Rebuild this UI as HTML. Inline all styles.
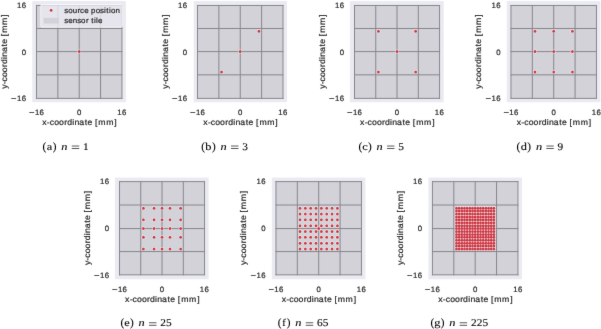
<!DOCTYPE html>
<html><head><meta charset="utf-8"><style>
html,body{margin:0;padding:0;background:#fff;width:601px;height:329px;overflow:hidden}
svg{display:block}
text{text-rendering:geometricPrecision}
text{font-family:"Liberation Sans",sans-serif;fill:#262626;stroke:#262626;stroke-width:0.2px}
.cap{font-family:"Liberation Serif",serif;fill:#000;stroke:#000;stroke-width:0.1px}
</style></head><body>
<svg width="601" height="329" viewBox="0 0 601 329">
<defs><filter id="bl" x="0" y="0" width="601" height="329" filterUnits="userSpaceOnUse" color-interpolation-filters="sRGB"><feConvolveMatrix order="3" kernelMatrix="0.00524 0.06192 0.00524 0.06192 0.73137 0.06192 0.00524 0.06192 0.00524" edgeMode="duplicate"/></filter></defs>
<rect width="601" height="329" fill="#fff"/>
<g filter="url(#bl)">
<rect x="32.26" y="1.1" width="93.64" height="101.1" fill="#EAEAF2"/>
<rect x="36.5" y="5.47" width="85.43" height="92.91" fill="#D2D2D8"/>
<path d="M36.5 5.47V98.38M36.5 5.47H121.93M57.86 5.47V98.38M36.5 28.5H121.93M79.22 5.47V98.38M36.5 51.6H121.93M100.57 5.47V98.38M36.5 74.85H121.93M121.93 5.47V98.38M36.5 98.38H121.93" stroke="#86868c" stroke-width="1" fill="none" stroke-linecap="square"/>
<rect x="40.7" y="4.5" width="81.8" height="22.7" rx="1.5" fill="#EAEAF2" fill-opacity="0.8" stroke="#fff" stroke-opacity="0.8" stroke-width="0.8"/>
<ellipse cx="51.15" cy="10.25" rx="1.85" ry="1.998" fill="#fff" fill-opacity="0.85"/><ellipse cx="51.15" cy="10.25" rx="1.4" ry="1.512" fill="#CC3A46"/>
<rect x="43.7" y="17.9" width="15.2" height="5.6" fill="#D2D2D8"/>
<text transform="translate(64.70 12.80) scale(1.05 1)" x="-0.41 3.28 7.61 12.25 14.60 18.56 22.86 25.17 29.48 33.69 37.49 39.60 42.17 44.00 48.36" y="0" font-size="7.6">source position</text>
<text transform="translate(64.70 23.00) scale(1.05 1)" x="-0.41 3.31 7.67 11.95 15.64 20.18 22.81 25.27 27.84 29.78 31.64" y="0" font-size="7.6">sensor tile</text>
<g fill="#fff" fill-opacity="0.85"><ellipse cx="79.22" cy="51.6" rx="1.85" ry="1.998"/></g>
<g fill="#CC3A46"><ellipse cx="79.22" cy="51.6" rx="1.4" ry="1.512"/></g>
<text transform="translate(36.50 114.80) scale(1.0 1)" x="-7.58" y="0" font-size="7.79" textLength="5.51" lengthAdjust="spacingAndGlyphs">−</text><text transform="translate(36.50 114.80) scale(1.0 1)" x="-1.63 3.08" y="0" font-size="7.79">16</text>
<text transform="translate(79.22 114.80) scale(1.0 1)" x="-2.17" y="0" font-size="7.79">0</text>
<text transform="translate(121.93 114.80) scale(1.0 1)" x="-4.71 -0.01" y="0" font-size="7.79">16</text>
<text transform="translate(25.80 7.87) scale(1.0 1)" x="-8.74 -4.04" y="0" font-size="7.79">16</text>
<text transform="translate(25.80 54.82) scale(1.0 1)" x="-4.01" y="0" font-size="7.79">0</text>
<text transform="translate(25.80 101.23) scale(1.0 1)" x="-14.69" y="0" font-size="7.79" textLength="5.51" lengthAdjust="spacingAndGlyphs">−</text><text transform="translate(25.80 101.23) scale(1.0 1)" x="-8.74 -4.04" y="0" font-size="7.79">16</text>
<text transform="translate(79.22 124.95) scale(1.05 1)" x="-35.17 -30.83 -28.15 -23.86 -19.20 -14.24 -11.50 -6.59 -4.49 -0.05 5.21 7.93 12.62 15.01 18.23 25.65 33.44" y="0" font-size="8.29">x-coordinate [mm]</text>
<text transform="translate(6.60 51.92) rotate(-90) scale(1.05 1)" x="-35.09 -30.90 -28.22 -23.93 -19.27 -14.31 -11.57 -6.66 -4.56 -0.12 5.13 7.86 12.55 14.94 18.16 25.58 33.37" y="0" font-size="8.29">y-coordinate [mm]</text>
<text x="42.57" y="149.60" class="cap" font-size="11.2">(</text><text x="46.80" y="149.60" class="cap" font-size="10.3" textLength="5.49" lengthAdjust="spacingAndGlyphs">a</text><text x="52.80" y="149.60" class="cap" font-size="11.2">)</text><text x="61.39" y="149.60" class="cap" font-size="10.3" font-style="italic" textLength="6.18" lengthAdjust="spacingAndGlyphs">n</text><text x="83.01" y="149.60" class="cap" font-size="10.3" textLength="5.67" lengthAdjust="spacingAndGlyphs">1</text><rect x="71.77" y="145.65" width="7.47" height="0.75" fill="#222"/><rect x="71.77" y="148.05" width="7.47" height="0.75" fill="#222"/>
<rect x="193.7" y="1.1" width="93.3" height="101.1" fill="#EAEAF2"/>
<rect x="197.5" y="5.47" width="85.5" height="92.91" fill="#D2D2D8"/>
<path d="M197.5 5.47V98.38M197.5 5.47H283M218.88 5.47V98.38M197.5 28.5H283M240.25 5.47V98.38M197.5 51.6H283M261.62 5.47V98.38M197.5 74.85H283M283 5.47V98.38M197.5 98.38H283" stroke="#86868c" stroke-width="1" fill="none" stroke-linecap="square"/>
<g fill="#fff" fill-opacity="0.85"><ellipse cx="221.55" cy="71.92" rx="1.85" ry="1.998"/><ellipse cx="240.25" cy="51.6" rx="1.85" ry="1.998"/><ellipse cx="258.95" cy="31.28" rx="1.85" ry="1.998"/></g>
<g fill="#CC3A46"><ellipse cx="221.55" cy="71.92" rx="1.4" ry="1.512"/><ellipse cx="240.25" cy="51.6" rx="1.4" ry="1.512"/><ellipse cx="258.95" cy="31.28" rx="1.4" ry="1.512"/></g>
<text transform="translate(197.50 114.80) scale(1.0 1)" x="-7.58" y="0" font-size="7.79" textLength="5.51" lengthAdjust="spacingAndGlyphs">−</text><text transform="translate(197.50 114.80) scale(1.0 1)" x="-1.63 3.08" y="0" font-size="7.79">16</text>
<text transform="translate(240.25 114.80) scale(1.0 1)" x="-2.17" y="0" font-size="7.79">0</text>
<text transform="translate(283.00 114.80) scale(1.0 1)" x="-4.71 -0.01" y="0" font-size="7.79">16</text>
<text transform="translate(186.80 7.87) scale(1.0 1)" x="-8.74 -4.04" y="0" font-size="7.79">16</text>
<text transform="translate(186.80 54.82) scale(1.0 1)" x="-4.01" y="0" font-size="7.79">0</text>
<text transform="translate(186.80 101.23) scale(1.0 1)" x="-14.69" y="0" font-size="7.79" textLength="5.51" lengthAdjust="spacingAndGlyphs">−</text><text transform="translate(186.80 101.23) scale(1.0 1)" x="-8.74 -4.04" y="0" font-size="7.79">16</text>
<text transform="translate(240.25 124.95) scale(1.05 1)" x="-35.17 -30.83 -28.15 -23.86 -19.20 -14.24 -11.50 -6.59 -4.49 -0.05 5.21 7.93 12.62 15.01 18.23 25.65 33.44" y="0" font-size="8.29">x-coordinate [mm]</text>
<text transform="translate(167.60 51.92) rotate(-90) scale(1.05 1)" x="-35.09 -30.90 -28.22 -23.93 -19.27 -14.31 -11.57 -6.66 -4.56 -0.12 5.13 7.86 12.55 14.94 18.16 25.58 33.37" y="0" font-size="8.29">y-coordinate [mm]</text>
<text x="201.17" y="149.60" class="cap" font-size="11.2">(</text><text x="205.38" y="149.60" class="cap" font-size="10.3" textLength="6.18" lengthAdjust="spacingAndGlyphs">b</text><text x="212.04" y="149.60" class="cap" font-size="11.2">)</text><text x="220.63" y="149.60" class="cap" font-size="10.3" font-style="italic" textLength="6.18" lengthAdjust="spacingAndGlyphs">n</text><text x="242.25" y="149.60" class="cap" font-size="10.3" textLength="5.67" lengthAdjust="spacingAndGlyphs">3</text><rect x="231.01" y="145.65" width="7.47" height="0.75" fill="#222"/><rect x="231.01" y="148.05" width="7.47" height="0.75" fill="#222"/>
<rect x="349.95" y="1.1" width="93.71" height="101.1" fill="#EAEAF2"/>
<rect x="354.5" y="5.47" width="85.06" height="92.91" fill="#D2D2D8"/>
<path d="M354.5 5.47V98.38M354.5 5.47H439.56M375.76 5.47V98.38M354.5 28.5H439.56M397.03 5.47V98.38M354.5 51.6H439.56M418.3 5.47V98.38M354.5 74.85H439.56M439.56 5.47V98.38M354.5 98.38H439.56" stroke="#86868c" stroke-width="1" fill="none" stroke-linecap="square"/>
<g fill="#fff" fill-opacity="0.85"><ellipse cx="378.42" cy="71.92" rx="1.85" ry="1.998"/><ellipse cx="378.42" cy="31.28" rx="1.85" ry="1.998"/><ellipse cx="397.03" cy="51.6" rx="1.85" ry="1.998"/><ellipse cx="415.64" cy="71.92" rx="1.85" ry="1.998"/><ellipse cx="415.64" cy="31.28" rx="1.85" ry="1.998"/></g>
<g fill="#CC3A46"><ellipse cx="378.42" cy="71.92" rx="1.4" ry="1.512"/><ellipse cx="378.42" cy="31.28" rx="1.4" ry="1.512"/><ellipse cx="397.03" cy="51.6" rx="1.4" ry="1.512"/><ellipse cx="415.64" cy="71.92" rx="1.4" ry="1.512"/><ellipse cx="415.64" cy="31.28" rx="1.4" ry="1.512"/></g>
<text transform="translate(354.50 114.80) scale(1.0 1)" x="-7.58" y="0" font-size="7.79" textLength="5.51" lengthAdjust="spacingAndGlyphs">−</text><text transform="translate(354.50 114.80) scale(1.0 1)" x="-1.63 3.08" y="0" font-size="7.79">16</text>
<text transform="translate(397.03 114.80) scale(1.0 1)" x="-2.17" y="0" font-size="7.79">0</text>
<text transform="translate(439.56 114.80) scale(1.0 1)" x="-4.71 -0.01" y="0" font-size="7.79">16</text>
<text transform="translate(343.80 7.87) scale(1.0 1)" x="-8.74 -4.04" y="0" font-size="7.79">16</text>
<text transform="translate(343.80 54.82) scale(1.0 1)" x="-4.01" y="0" font-size="7.79">0</text>
<text transform="translate(343.80 101.23) scale(1.0 1)" x="-14.69" y="0" font-size="7.79" textLength="5.51" lengthAdjust="spacingAndGlyphs">−</text><text transform="translate(343.80 101.23) scale(1.0 1)" x="-8.74 -4.04" y="0" font-size="7.79">16</text>
<text transform="translate(397.03 124.95) scale(1.05 1)" x="-35.17 -30.83 -28.15 -23.86 -19.20 -14.24 -11.50 -6.59 -4.49 -0.05 5.21 7.93 12.62 15.01 18.23 25.65 33.44" y="0" font-size="8.29">x-coordinate [mm]</text>
<text transform="translate(324.60 51.92) rotate(-90) scale(1.05 1)" x="-35.09 -30.90 -28.22 -23.93 -19.27 -14.31 -11.57 -6.66 -4.56 -0.12 5.13 7.86 12.55 14.94 18.16 25.58 33.37" y="0" font-size="8.29">y-coordinate [mm]</text>
<text x="358.47" y="149.60" class="cap" font-size="11.2">(</text><text x="362.38" y="149.60" class="cap" font-size="10.3" textLength="5.49" lengthAdjust="spacingAndGlyphs">c</text><text x="368.05" y="149.60" class="cap" font-size="11.2">)</text><text x="376.64" y="149.60" class="cap" font-size="10.3" font-style="italic" textLength="6.18" lengthAdjust="spacingAndGlyphs">n</text><text x="398.27" y="149.60" class="cap" font-size="10.3" textLength="5.67" lengthAdjust="spacingAndGlyphs">5</text><rect x="387.02" y="145.65" width="7.47" height="0.75" fill="#222"/><rect x="387.02" y="148.05" width="7.47" height="0.75" fill="#222"/>
<rect x="506.8" y="1.1" width="93.6" height="101.1" fill="#EAEAF2"/>
<rect x="510.96" y="5.47" width="85.49" height="92.91" fill="#D2D2D8"/>
<path d="M510.96 5.47V98.38M510.96 5.47H596.45M532.33 5.47V98.38M510.96 28.5H596.45M553.71 5.47V98.38M510.96 51.6H596.45M575.08 5.47V98.38M510.96 74.85H596.45M596.45 5.47V98.38M510.96 98.38H596.45" stroke="#86868c" stroke-width="1" fill="none" stroke-linecap="square"/>
<g fill="#fff" fill-opacity="0.85"><ellipse cx="535" cy="71.92" rx="1.85" ry="1.998"/><ellipse cx="535" cy="51.6" rx="1.85" ry="1.998"/><ellipse cx="535" cy="31.28" rx="1.85" ry="1.998"/><ellipse cx="553.71" cy="71.92" rx="1.85" ry="1.998"/><ellipse cx="553.71" cy="51.6" rx="1.85" ry="1.998"/><ellipse cx="553.71" cy="31.28" rx="1.85" ry="1.998"/><ellipse cx="572.41" cy="71.92" rx="1.85" ry="1.998"/><ellipse cx="572.41" cy="51.6" rx="1.85" ry="1.998"/><ellipse cx="572.41" cy="31.28" rx="1.85" ry="1.998"/></g>
<g fill="#CC3A46"><ellipse cx="535" cy="71.92" rx="1.4" ry="1.512"/><ellipse cx="535" cy="51.6" rx="1.4" ry="1.512"/><ellipse cx="535" cy="31.28" rx="1.4" ry="1.512"/><ellipse cx="553.71" cy="71.92" rx="1.4" ry="1.512"/><ellipse cx="553.71" cy="51.6" rx="1.4" ry="1.512"/><ellipse cx="553.71" cy="31.28" rx="1.4" ry="1.512"/><ellipse cx="572.41" cy="71.92" rx="1.4" ry="1.512"/><ellipse cx="572.41" cy="51.6" rx="1.4" ry="1.512"/><ellipse cx="572.41" cy="31.28" rx="1.4" ry="1.512"/></g>
<text transform="translate(510.96 114.80) scale(1.0 1)" x="-7.58" y="0" font-size="7.79" textLength="5.51" lengthAdjust="spacingAndGlyphs">−</text><text transform="translate(510.96 114.80) scale(1.0 1)" x="-1.63 3.08" y="0" font-size="7.79">16</text>
<text transform="translate(553.71 114.80) scale(1.0 1)" x="-2.17" y="0" font-size="7.79">0</text>
<text transform="translate(596.45 114.80) scale(1.0 1)" x="-4.71 -0.01" y="0" font-size="7.79">16</text>
<text transform="translate(500.26 7.87) scale(1.0 1)" x="-8.74 -4.04" y="0" font-size="7.79">16</text>
<text transform="translate(500.26 54.82) scale(1.0 1)" x="-4.01" y="0" font-size="7.79">0</text>
<text transform="translate(500.26 101.23) scale(1.0 1)" x="-14.69" y="0" font-size="7.79" textLength="5.51" lengthAdjust="spacingAndGlyphs">−</text><text transform="translate(500.26 101.23) scale(1.0 1)" x="-8.74 -4.04" y="0" font-size="7.79">16</text>
<text transform="translate(553.71 124.95) scale(1.05 1)" x="-35.17 -30.83 -28.15 -23.86 -19.20 -14.24 -11.50 -6.59 -4.49 -0.05 5.21 7.93 12.62 15.01 18.23 25.65 33.44" y="0" font-size="8.29">x-coordinate [mm]</text>
<text transform="translate(481.06 51.92) rotate(-90) scale(1.05 1)" x="-35.09 -30.90 -28.22 -23.93 -19.27 -14.31 -11.57 -6.66 -4.56 -0.12 5.13 7.86 12.55 14.94 18.16 25.58 33.37" y="0" font-size="8.29">y-coordinate [mm]</text>
<text x="516.47" y="149.60" class="cap" font-size="11.2">(</text><text x="520.68" y="149.60" class="cap" font-size="10.3" textLength="6.18" lengthAdjust="spacingAndGlyphs">d</text><text x="527.34" y="149.60" class="cap" font-size="11.2">)</text><text x="535.93" y="149.60" class="cap" font-size="10.3" font-style="italic" textLength="6.18" lengthAdjust="spacingAndGlyphs">n</text><text x="557.55" y="149.60" class="cap" font-size="10.3" textLength="5.67" lengthAdjust="spacingAndGlyphs">9</text><rect x="546.31" y="145.65" width="7.47" height="0.75" fill="#222"/><rect x="546.31" y="148.05" width="7.47" height="0.75" fill="#222"/>
<rect x="114.95" y="177.6" width="93.71" height="101.7" fill="#EAEAF2"/>
<rect x="119.5" y="181.6" width="85.06" height="93.23" fill="#D2D2D8"/>
<path d="M119.5 181.6V274.83M119.5 181.6H204.56M140.76 181.6V274.83M119.5 205H204.56M162.03 181.6V274.83M119.5 228.57H204.56M183.3 181.6V274.83M119.5 251.57H204.56M204.56 181.6V274.83M119.5 274.83H204.56" stroke="#86868c" stroke-width="1" fill="none" stroke-linecap="square"/>
<g fill="#fff" fill-opacity="0.85"><ellipse cx="143.42" cy="248.96" rx="1.85" ry="1.998"/><ellipse cx="143.42" cy="237.31" rx="1.85" ry="1.998"/><ellipse cx="143.42" cy="228.57" rx="1.85" ry="1.998"/><ellipse cx="143.42" cy="219.83" rx="1.85" ry="1.998"/><ellipse cx="143.42" cy="208.18" rx="1.85" ry="1.998"/><ellipse cx="154.06" cy="248.96" rx="1.85" ry="1.998"/><ellipse cx="154.06" cy="237.31" rx="1.85" ry="1.998"/><ellipse cx="154.06" cy="228.57" rx="1.85" ry="1.998"/><ellipse cx="154.06" cy="219.83" rx="1.85" ry="1.998"/><ellipse cx="154.06" cy="208.18" rx="1.85" ry="1.998"/><ellipse cx="162.03" cy="248.96" rx="1.85" ry="1.998"/><ellipse cx="162.03" cy="237.31" rx="1.85" ry="1.998"/><ellipse cx="162.03" cy="228.57" rx="1.85" ry="1.998"/><ellipse cx="162.03" cy="219.83" rx="1.85" ry="1.998"/><ellipse cx="162.03" cy="208.18" rx="1.85" ry="1.998"/><ellipse cx="170" cy="248.96" rx="1.85" ry="1.998"/><ellipse cx="170" cy="237.31" rx="1.85" ry="1.998"/><ellipse cx="170" cy="228.57" rx="1.85" ry="1.998"/><ellipse cx="170" cy="219.83" rx="1.85" ry="1.998"/><ellipse cx="170" cy="208.18" rx="1.85" ry="1.998"/><ellipse cx="180.64" cy="248.96" rx="1.85" ry="1.998"/><ellipse cx="180.64" cy="237.31" rx="1.85" ry="1.998"/><ellipse cx="180.64" cy="228.57" rx="1.85" ry="1.998"/><ellipse cx="180.64" cy="219.83" rx="1.85" ry="1.998"/><ellipse cx="180.64" cy="208.18" rx="1.85" ry="1.998"/></g>
<g fill="#CC3A46"><ellipse cx="143.42" cy="248.96" rx="1.4" ry="1.512"/><ellipse cx="143.42" cy="237.31" rx="1.4" ry="1.512"/><ellipse cx="143.42" cy="228.57" rx="1.4" ry="1.512"/><ellipse cx="143.42" cy="219.83" rx="1.4" ry="1.512"/><ellipse cx="143.42" cy="208.18" rx="1.4" ry="1.512"/><ellipse cx="154.06" cy="248.96" rx="1.4" ry="1.512"/><ellipse cx="154.06" cy="237.31" rx="1.4" ry="1.512"/><ellipse cx="154.06" cy="228.57" rx="1.4" ry="1.512"/><ellipse cx="154.06" cy="219.83" rx="1.4" ry="1.512"/><ellipse cx="154.06" cy="208.18" rx="1.4" ry="1.512"/><ellipse cx="162.03" cy="248.96" rx="1.4" ry="1.512"/><ellipse cx="162.03" cy="237.31" rx="1.4" ry="1.512"/><ellipse cx="162.03" cy="228.57" rx="1.4" ry="1.512"/><ellipse cx="162.03" cy="219.83" rx="1.4" ry="1.512"/><ellipse cx="162.03" cy="208.18" rx="1.4" ry="1.512"/><ellipse cx="170" cy="248.96" rx="1.4" ry="1.512"/><ellipse cx="170" cy="237.31" rx="1.4" ry="1.512"/><ellipse cx="170" cy="228.57" rx="1.4" ry="1.512"/><ellipse cx="170" cy="219.83" rx="1.4" ry="1.512"/><ellipse cx="170" cy="208.18" rx="1.4" ry="1.512"/><ellipse cx="180.64" cy="248.96" rx="1.4" ry="1.512"/><ellipse cx="180.64" cy="237.31" rx="1.4" ry="1.512"/><ellipse cx="180.64" cy="228.57" rx="1.4" ry="1.512"/><ellipse cx="180.64" cy="219.83" rx="1.4" ry="1.512"/><ellipse cx="180.64" cy="208.18" rx="1.4" ry="1.512"/></g>
<text transform="translate(119.50 291.90) scale(1.0 1)" x="-7.58" y="0" font-size="7.79" textLength="5.51" lengthAdjust="spacingAndGlyphs">−</text><text transform="translate(119.50 291.90) scale(1.0 1)" x="-1.63 3.08" y="0" font-size="7.79">16</text>
<text transform="translate(162.03 291.90) scale(1.0 1)" x="-2.17" y="0" font-size="7.79">0</text>
<text transform="translate(204.56 291.90) scale(1.0 1)" x="-4.71 -0.01" y="0" font-size="7.79">16</text>
<text transform="translate(108.80 184.40) scale(1.0 1)" x="-8.74 -4.04" y="0" font-size="7.79">16</text>
<text transform="translate(108.80 231.41) scale(1.0 1)" x="-4.01" y="0" font-size="7.79">0</text>
<text transform="translate(108.80 277.88) scale(1.0 1)" x="-14.69" y="0" font-size="7.79" textLength="5.51" lengthAdjust="spacingAndGlyphs">−</text><text transform="translate(108.80 277.88) scale(1.0 1)" x="-8.74 -4.04" y="0" font-size="7.79">16</text>
<text transform="translate(162.03 302.05) scale(1.05 1)" x="-35.17 -30.83 -28.15 -23.86 -19.20 -14.24 -11.50 -6.59 -4.49 -0.05 5.21 7.93 12.62 15.01 18.23 25.65 33.44" y="0" font-size="8.29">x-coordinate [mm]</text>
<text transform="translate(89.60 228.21) rotate(-90) scale(1.05 1)" x="-35.09 -30.90 -28.22 -23.93 -19.27 -14.31 -11.57 -6.66 -4.56 -0.12 5.13 7.86 12.55 14.94 18.16 25.58 33.37" y="0" font-size="8.29">y-coordinate [mm]</text>
<text x="120.47" y="326.40" class="cap" font-size="11.2">(</text><text x="124.38" y="326.40" class="cap" font-size="10.3" textLength="5.49" lengthAdjust="spacingAndGlyphs">e</text><text x="130.05" y="326.40" class="cap" font-size="11.2">)</text><text x="138.64" y="326.40" class="cap" font-size="10.3" font-style="italic" textLength="6.18" lengthAdjust="spacingAndGlyphs">n</text><text x="160.27" y="326.40" class="cap" font-size="10.3" textLength="5.67" lengthAdjust="spacingAndGlyphs">2</text><text x="166.02" y="326.40" class="cap" font-size="10.3" textLength="5.67" lengthAdjust="spacingAndGlyphs">5</text><rect x="149.02" y="322.45" width="7.47" height="0.75" fill="#222"/><rect x="149.02" y="324.85" width="7.47" height="0.75" fill="#222"/>
<rect x="271.8" y="177.6" width="93.6" height="101.7" fill="#EAEAF2"/>
<rect x="275.96" y="181.6" width="85.49" height="93.23" fill="#D2D2D8"/>
<path d="M275.96 181.6V274.83M275.96 181.6H361.45M297.33 181.6V274.83M275.96 205H361.45M318.7 181.6V274.83M275.96 228.57H361.45M340.08 181.6V274.83M275.96 251.57H361.45M361.45 181.6V274.83M275.96 274.83H361.45" stroke="#86868c" stroke-width="1" fill="none" stroke-linecap="square"/>
<g fill="#fff" fill-opacity="0.85"><ellipse cx="300" cy="248.96" rx="1.85" ry="1.998"/><ellipse cx="300" cy="243.14" rx="1.85" ry="1.998"/><ellipse cx="300" cy="237.31" rx="1.85" ry="1.998"/><ellipse cx="300" cy="231.48" rx="1.85" ry="1.998"/><ellipse cx="300" cy="225.66" rx="1.85" ry="1.998"/><ellipse cx="300" cy="219.83" rx="1.85" ry="1.998"/><ellipse cx="300" cy="214" rx="1.85" ry="1.998"/><ellipse cx="300" cy="208.18" rx="1.85" ry="1.998"/><ellipse cx="305.35" cy="248.96" rx="1.85" ry="1.998"/><ellipse cx="305.35" cy="243.14" rx="1.85" ry="1.998"/><ellipse cx="305.35" cy="237.31" rx="1.85" ry="1.998"/><ellipse cx="305.35" cy="231.48" rx="1.85" ry="1.998"/><ellipse cx="305.35" cy="225.66" rx="1.85" ry="1.998"/><ellipse cx="305.35" cy="219.83" rx="1.85" ry="1.998"/><ellipse cx="305.35" cy="214" rx="1.85" ry="1.998"/><ellipse cx="305.35" cy="208.18" rx="1.85" ry="1.998"/><ellipse cx="310.69" cy="248.96" rx="1.85" ry="1.998"/><ellipse cx="310.69" cy="243.14" rx="1.85" ry="1.998"/><ellipse cx="310.69" cy="237.31" rx="1.85" ry="1.998"/><ellipse cx="310.69" cy="231.48" rx="1.85" ry="1.998"/><ellipse cx="310.69" cy="225.66" rx="1.85" ry="1.998"/><ellipse cx="310.69" cy="219.83" rx="1.85" ry="1.998"/><ellipse cx="310.69" cy="214" rx="1.85" ry="1.998"/><ellipse cx="310.69" cy="208.18" rx="1.85" ry="1.998"/><ellipse cx="316.03" cy="248.96" rx="1.85" ry="1.998"/><ellipse cx="316.03" cy="243.14" rx="1.85" ry="1.998"/><ellipse cx="316.03" cy="237.31" rx="1.85" ry="1.998"/><ellipse cx="316.03" cy="231.48" rx="1.85" ry="1.998"/><ellipse cx="316.03" cy="225.66" rx="1.85" ry="1.998"/><ellipse cx="316.03" cy="219.83" rx="1.85" ry="1.998"/><ellipse cx="316.03" cy="214" rx="1.85" ry="1.998"/><ellipse cx="316.03" cy="208.18" rx="1.85" ry="1.998"/><ellipse cx="321.38" cy="248.96" rx="1.85" ry="1.998"/><ellipse cx="321.38" cy="243.14" rx="1.85" ry="1.998"/><ellipse cx="321.38" cy="237.31" rx="1.85" ry="1.998"/><ellipse cx="321.38" cy="231.48" rx="1.85" ry="1.998"/><ellipse cx="321.38" cy="225.66" rx="1.85" ry="1.998"/><ellipse cx="321.38" cy="219.83" rx="1.85" ry="1.998"/><ellipse cx="321.38" cy="214" rx="1.85" ry="1.998"/><ellipse cx="321.38" cy="208.18" rx="1.85" ry="1.998"/><ellipse cx="326.72" cy="248.96" rx="1.85" ry="1.998"/><ellipse cx="326.72" cy="243.14" rx="1.85" ry="1.998"/><ellipse cx="326.72" cy="237.31" rx="1.85" ry="1.998"/><ellipse cx="326.72" cy="231.48" rx="1.85" ry="1.998"/><ellipse cx="326.72" cy="225.66" rx="1.85" ry="1.998"/><ellipse cx="326.72" cy="219.83" rx="1.85" ry="1.998"/><ellipse cx="326.72" cy="214" rx="1.85" ry="1.998"/><ellipse cx="326.72" cy="208.18" rx="1.85" ry="1.998"/><ellipse cx="332.06" cy="248.96" rx="1.85" ry="1.998"/><ellipse cx="332.06" cy="243.14" rx="1.85" ry="1.998"/><ellipse cx="332.06" cy="237.31" rx="1.85" ry="1.998"/><ellipse cx="332.06" cy="231.48" rx="1.85" ry="1.998"/><ellipse cx="332.06" cy="225.66" rx="1.85" ry="1.998"/><ellipse cx="332.06" cy="219.83" rx="1.85" ry="1.998"/><ellipse cx="332.06" cy="214" rx="1.85" ry="1.998"/><ellipse cx="332.06" cy="208.18" rx="1.85" ry="1.998"/><ellipse cx="337.41" cy="248.96" rx="1.85" ry="1.998"/><ellipse cx="337.41" cy="243.14" rx="1.85" ry="1.998"/><ellipse cx="337.41" cy="237.31" rx="1.85" ry="1.998"/><ellipse cx="337.41" cy="231.48" rx="1.85" ry="1.998"/><ellipse cx="337.41" cy="225.66" rx="1.85" ry="1.998"/><ellipse cx="337.41" cy="219.83" rx="1.85" ry="1.998"/><ellipse cx="337.41" cy="214" rx="1.85" ry="1.998"/><ellipse cx="337.41" cy="208.18" rx="1.85" ry="1.998"/><ellipse cx="318.7" cy="228.57" rx="1.85" ry="1.998"/></g>
<g fill="#CC3A46"><ellipse cx="300" cy="248.96" rx="1.4" ry="1.512"/><ellipse cx="300" cy="243.14" rx="1.4" ry="1.512"/><ellipse cx="300" cy="237.31" rx="1.4" ry="1.512"/><ellipse cx="300" cy="231.48" rx="1.4" ry="1.512"/><ellipse cx="300" cy="225.66" rx="1.4" ry="1.512"/><ellipse cx="300" cy="219.83" rx="1.4" ry="1.512"/><ellipse cx="300" cy="214" rx="1.4" ry="1.512"/><ellipse cx="300" cy="208.18" rx="1.4" ry="1.512"/><ellipse cx="305.35" cy="248.96" rx="1.4" ry="1.512"/><ellipse cx="305.35" cy="243.14" rx="1.4" ry="1.512"/><ellipse cx="305.35" cy="237.31" rx="1.4" ry="1.512"/><ellipse cx="305.35" cy="231.48" rx="1.4" ry="1.512"/><ellipse cx="305.35" cy="225.66" rx="1.4" ry="1.512"/><ellipse cx="305.35" cy="219.83" rx="1.4" ry="1.512"/><ellipse cx="305.35" cy="214" rx="1.4" ry="1.512"/><ellipse cx="305.35" cy="208.18" rx="1.4" ry="1.512"/><ellipse cx="310.69" cy="248.96" rx="1.4" ry="1.512"/><ellipse cx="310.69" cy="243.14" rx="1.4" ry="1.512"/><ellipse cx="310.69" cy="237.31" rx="1.4" ry="1.512"/><ellipse cx="310.69" cy="231.48" rx="1.4" ry="1.512"/><ellipse cx="310.69" cy="225.66" rx="1.4" ry="1.512"/><ellipse cx="310.69" cy="219.83" rx="1.4" ry="1.512"/><ellipse cx="310.69" cy="214" rx="1.4" ry="1.512"/><ellipse cx="310.69" cy="208.18" rx="1.4" ry="1.512"/><ellipse cx="316.03" cy="248.96" rx="1.4" ry="1.512"/><ellipse cx="316.03" cy="243.14" rx="1.4" ry="1.512"/><ellipse cx="316.03" cy="237.31" rx="1.4" ry="1.512"/><ellipse cx="316.03" cy="231.48" rx="1.4" ry="1.512"/><ellipse cx="316.03" cy="225.66" rx="1.4" ry="1.512"/><ellipse cx="316.03" cy="219.83" rx="1.4" ry="1.512"/><ellipse cx="316.03" cy="214" rx="1.4" ry="1.512"/><ellipse cx="316.03" cy="208.18" rx="1.4" ry="1.512"/><ellipse cx="321.38" cy="248.96" rx="1.4" ry="1.512"/><ellipse cx="321.38" cy="243.14" rx="1.4" ry="1.512"/><ellipse cx="321.38" cy="237.31" rx="1.4" ry="1.512"/><ellipse cx="321.38" cy="231.48" rx="1.4" ry="1.512"/><ellipse cx="321.38" cy="225.66" rx="1.4" ry="1.512"/><ellipse cx="321.38" cy="219.83" rx="1.4" ry="1.512"/><ellipse cx="321.38" cy="214" rx="1.4" ry="1.512"/><ellipse cx="321.38" cy="208.18" rx="1.4" ry="1.512"/><ellipse cx="326.72" cy="248.96" rx="1.4" ry="1.512"/><ellipse cx="326.72" cy="243.14" rx="1.4" ry="1.512"/><ellipse cx="326.72" cy="237.31" rx="1.4" ry="1.512"/><ellipse cx="326.72" cy="231.48" rx="1.4" ry="1.512"/><ellipse cx="326.72" cy="225.66" rx="1.4" ry="1.512"/><ellipse cx="326.72" cy="219.83" rx="1.4" ry="1.512"/><ellipse cx="326.72" cy="214" rx="1.4" ry="1.512"/><ellipse cx="326.72" cy="208.18" rx="1.4" ry="1.512"/><ellipse cx="332.06" cy="248.96" rx="1.4" ry="1.512"/><ellipse cx="332.06" cy="243.14" rx="1.4" ry="1.512"/><ellipse cx="332.06" cy="237.31" rx="1.4" ry="1.512"/><ellipse cx="332.06" cy="231.48" rx="1.4" ry="1.512"/><ellipse cx="332.06" cy="225.66" rx="1.4" ry="1.512"/><ellipse cx="332.06" cy="219.83" rx="1.4" ry="1.512"/><ellipse cx="332.06" cy="214" rx="1.4" ry="1.512"/><ellipse cx="332.06" cy="208.18" rx="1.4" ry="1.512"/><ellipse cx="337.41" cy="248.96" rx="1.4" ry="1.512"/><ellipse cx="337.41" cy="243.14" rx="1.4" ry="1.512"/><ellipse cx="337.41" cy="237.31" rx="1.4" ry="1.512"/><ellipse cx="337.41" cy="231.48" rx="1.4" ry="1.512"/><ellipse cx="337.41" cy="225.66" rx="1.4" ry="1.512"/><ellipse cx="337.41" cy="219.83" rx="1.4" ry="1.512"/><ellipse cx="337.41" cy="214" rx="1.4" ry="1.512"/><ellipse cx="337.41" cy="208.18" rx="1.4" ry="1.512"/><ellipse cx="318.7" cy="228.57" rx="1.4" ry="1.512"/></g>
<text transform="translate(275.96 291.90) scale(1.0 1)" x="-7.58" y="0" font-size="7.79" textLength="5.51" lengthAdjust="spacingAndGlyphs">−</text><text transform="translate(275.96 291.90) scale(1.0 1)" x="-1.63 3.08" y="0" font-size="7.79">16</text>
<text transform="translate(318.70 291.90) scale(1.0 1)" x="-2.17" y="0" font-size="7.79">0</text>
<text transform="translate(361.45 291.90) scale(1.0 1)" x="-4.71 -0.01" y="0" font-size="7.79">16</text>
<text transform="translate(265.26 184.40) scale(1.0 1)" x="-8.74 -4.04" y="0" font-size="7.79">16</text>
<text transform="translate(265.26 231.41) scale(1.0 1)" x="-4.01" y="0" font-size="7.79">0</text>
<text transform="translate(265.26 277.88) scale(1.0 1)" x="-14.69" y="0" font-size="7.79" textLength="5.51" lengthAdjust="spacingAndGlyphs">−</text><text transform="translate(265.26 277.88) scale(1.0 1)" x="-8.74 -4.04" y="0" font-size="7.79">16</text>
<text transform="translate(318.70 302.05) scale(1.05 1)" x="-35.17 -30.83 -28.15 -23.86 -19.20 -14.24 -11.50 -6.59 -4.49 -0.05 5.21 7.93 12.62 15.01 18.23 25.65 33.44" y="0" font-size="8.29">x-coordinate [mm]</text>
<text transform="translate(246.06 228.21) rotate(-90) scale(1.05 1)" x="-35.09 -30.90 -28.22 -23.93 -19.27 -14.31 -11.57 -6.66 -4.56 -0.12 5.13 7.86 12.55 14.94 18.16 25.58 33.37" y="0" font-size="8.29">y-coordinate [mm]</text>
<text x="277.87" y="326.40" class="cap" font-size="11.2">(</text><text x="282.17" y="326.40" class="cap" font-size="10.3">f</text><text x="286.76" y="326.40" class="cap" font-size="11.2">)</text><text x="295.35" y="326.40" class="cap" font-size="10.3" font-style="italic" textLength="6.18" lengthAdjust="spacingAndGlyphs">n</text><text x="316.98" y="326.40" class="cap" font-size="10.3" textLength="5.67" lengthAdjust="spacingAndGlyphs">6</text><text x="322.73" y="326.40" class="cap" font-size="10.3" textLength="5.67" lengthAdjust="spacingAndGlyphs">5</text><rect x="305.73" y="322.45" width="7.47" height="0.75" fill="#222"/><rect x="305.73" y="324.85" width="7.47" height="0.75" fill="#222"/>
<rect x="428.5" y="177.6" width="93.4" height="101.7" fill="#EAEAF2"/>
<rect x="432.45" y="181.6" width="85.48" height="93.23" fill="#D2D2D8"/>
<path d="M432.45 181.6V274.83M432.45 181.6H517.93M453.82 181.6V274.83M432.45 205H517.93M475.19 181.6V274.83M432.45 228.57H517.93M496.56 181.6V274.83M432.45 251.57H517.93M517.93 181.6V274.83M432.45 274.83H517.93" stroke="#86868c" stroke-width="1" fill="none" stroke-linecap="square"/>
<g fill="#fff" fill-opacity="0.85"><ellipse cx="456.49" cy="248.96" rx="1.85" ry="1.998"/><ellipse cx="456.49" cy="246.05" rx="1.85" ry="1.998"/><ellipse cx="456.49" cy="243.14" rx="1.85" ry="1.998"/><ellipse cx="456.49" cy="240.22" rx="1.85" ry="1.998"/><ellipse cx="456.49" cy="237.31" rx="1.85" ry="1.998"/><ellipse cx="456.49" cy="234.4" rx="1.85" ry="1.998"/><ellipse cx="456.49" cy="231.48" rx="1.85" ry="1.998"/><ellipse cx="456.49" cy="228.57" rx="1.85" ry="1.998"/><ellipse cx="456.49" cy="225.66" rx="1.85" ry="1.998"/><ellipse cx="456.49" cy="222.74" rx="1.85" ry="1.998"/><ellipse cx="456.49" cy="219.83" rx="1.85" ry="1.998"/><ellipse cx="456.49" cy="216.92" rx="1.85" ry="1.998"/><ellipse cx="456.49" cy="214" rx="1.85" ry="1.998"/><ellipse cx="456.49" cy="211.09" rx="1.85" ry="1.998"/><ellipse cx="456.49" cy="208.18" rx="1.85" ry="1.998"/><ellipse cx="459.16" cy="248.96" rx="1.85" ry="1.998"/><ellipse cx="459.16" cy="246.05" rx="1.85" ry="1.998"/><ellipse cx="459.16" cy="243.14" rx="1.85" ry="1.998"/><ellipse cx="459.16" cy="240.22" rx="1.85" ry="1.998"/><ellipse cx="459.16" cy="237.31" rx="1.85" ry="1.998"/><ellipse cx="459.16" cy="234.4" rx="1.85" ry="1.998"/><ellipse cx="459.16" cy="231.48" rx="1.85" ry="1.998"/><ellipse cx="459.16" cy="228.57" rx="1.85" ry="1.998"/><ellipse cx="459.16" cy="225.66" rx="1.85" ry="1.998"/><ellipse cx="459.16" cy="222.74" rx="1.85" ry="1.998"/><ellipse cx="459.16" cy="219.83" rx="1.85" ry="1.998"/><ellipse cx="459.16" cy="216.92" rx="1.85" ry="1.998"/><ellipse cx="459.16" cy="214" rx="1.85" ry="1.998"/><ellipse cx="459.16" cy="211.09" rx="1.85" ry="1.998"/><ellipse cx="459.16" cy="208.18" rx="1.85" ry="1.998"/><ellipse cx="461.83" cy="248.96" rx="1.85" ry="1.998"/><ellipse cx="461.83" cy="246.05" rx="1.85" ry="1.998"/><ellipse cx="461.83" cy="243.14" rx="1.85" ry="1.998"/><ellipse cx="461.83" cy="240.22" rx="1.85" ry="1.998"/><ellipse cx="461.83" cy="237.31" rx="1.85" ry="1.998"/><ellipse cx="461.83" cy="234.4" rx="1.85" ry="1.998"/><ellipse cx="461.83" cy="231.48" rx="1.85" ry="1.998"/><ellipse cx="461.83" cy="228.57" rx="1.85" ry="1.998"/><ellipse cx="461.83" cy="225.66" rx="1.85" ry="1.998"/><ellipse cx="461.83" cy="222.74" rx="1.85" ry="1.998"/><ellipse cx="461.83" cy="219.83" rx="1.85" ry="1.998"/><ellipse cx="461.83" cy="216.92" rx="1.85" ry="1.998"/><ellipse cx="461.83" cy="214" rx="1.85" ry="1.998"/><ellipse cx="461.83" cy="211.09" rx="1.85" ry="1.998"/><ellipse cx="461.83" cy="208.18" rx="1.85" ry="1.998"/><ellipse cx="464.5" cy="248.96" rx="1.85" ry="1.998"/><ellipse cx="464.5" cy="246.05" rx="1.85" ry="1.998"/><ellipse cx="464.5" cy="243.14" rx="1.85" ry="1.998"/><ellipse cx="464.5" cy="240.22" rx="1.85" ry="1.998"/><ellipse cx="464.5" cy="237.31" rx="1.85" ry="1.998"/><ellipse cx="464.5" cy="234.4" rx="1.85" ry="1.998"/><ellipse cx="464.5" cy="231.48" rx="1.85" ry="1.998"/><ellipse cx="464.5" cy="228.57" rx="1.85" ry="1.998"/><ellipse cx="464.5" cy="225.66" rx="1.85" ry="1.998"/><ellipse cx="464.5" cy="222.74" rx="1.85" ry="1.998"/><ellipse cx="464.5" cy="219.83" rx="1.85" ry="1.998"/><ellipse cx="464.5" cy="216.92" rx="1.85" ry="1.998"/><ellipse cx="464.5" cy="214" rx="1.85" ry="1.998"/><ellipse cx="464.5" cy="211.09" rx="1.85" ry="1.998"/><ellipse cx="464.5" cy="208.18" rx="1.85" ry="1.998"/><ellipse cx="467.18" cy="248.96" rx="1.85" ry="1.998"/><ellipse cx="467.18" cy="246.05" rx="1.85" ry="1.998"/><ellipse cx="467.18" cy="243.14" rx="1.85" ry="1.998"/><ellipse cx="467.18" cy="240.22" rx="1.85" ry="1.998"/><ellipse cx="467.18" cy="237.31" rx="1.85" ry="1.998"/><ellipse cx="467.18" cy="234.4" rx="1.85" ry="1.998"/><ellipse cx="467.18" cy="231.48" rx="1.85" ry="1.998"/><ellipse cx="467.18" cy="228.57" rx="1.85" ry="1.998"/><ellipse cx="467.18" cy="225.66" rx="1.85" ry="1.998"/><ellipse cx="467.18" cy="222.74" rx="1.85" ry="1.998"/><ellipse cx="467.18" cy="219.83" rx="1.85" ry="1.998"/><ellipse cx="467.18" cy="216.92" rx="1.85" ry="1.998"/><ellipse cx="467.18" cy="214" rx="1.85" ry="1.998"/><ellipse cx="467.18" cy="211.09" rx="1.85" ry="1.998"/><ellipse cx="467.18" cy="208.18" rx="1.85" ry="1.998"/><ellipse cx="469.85" cy="248.96" rx="1.85" ry="1.998"/><ellipse cx="469.85" cy="246.05" rx="1.85" ry="1.998"/><ellipse cx="469.85" cy="243.14" rx="1.85" ry="1.998"/><ellipse cx="469.85" cy="240.22" rx="1.85" ry="1.998"/><ellipse cx="469.85" cy="237.31" rx="1.85" ry="1.998"/><ellipse cx="469.85" cy="234.4" rx="1.85" ry="1.998"/><ellipse cx="469.85" cy="231.48" rx="1.85" ry="1.998"/><ellipse cx="469.85" cy="228.57" rx="1.85" ry="1.998"/><ellipse cx="469.85" cy="225.66" rx="1.85" ry="1.998"/><ellipse cx="469.85" cy="222.74" rx="1.85" ry="1.998"/><ellipse cx="469.85" cy="219.83" rx="1.85" ry="1.998"/><ellipse cx="469.85" cy="216.92" rx="1.85" ry="1.998"/><ellipse cx="469.85" cy="214" rx="1.85" ry="1.998"/><ellipse cx="469.85" cy="211.09" rx="1.85" ry="1.998"/><ellipse cx="469.85" cy="208.18" rx="1.85" ry="1.998"/><ellipse cx="472.52" cy="248.96" rx="1.85" ry="1.998"/><ellipse cx="472.52" cy="246.05" rx="1.85" ry="1.998"/><ellipse cx="472.52" cy="243.14" rx="1.85" ry="1.998"/><ellipse cx="472.52" cy="240.22" rx="1.85" ry="1.998"/><ellipse cx="472.52" cy="237.31" rx="1.85" ry="1.998"/><ellipse cx="472.52" cy="234.4" rx="1.85" ry="1.998"/><ellipse cx="472.52" cy="231.48" rx="1.85" ry="1.998"/><ellipse cx="472.52" cy="228.57" rx="1.85" ry="1.998"/><ellipse cx="472.52" cy="225.66" rx="1.85" ry="1.998"/><ellipse cx="472.52" cy="222.74" rx="1.85" ry="1.998"/><ellipse cx="472.52" cy="219.83" rx="1.85" ry="1.998"/><ellipse cx="472.52" cy="216.92" rx="1.85" ry="1.998"/><ellipse cx="472.52" cy="214" rx="1.85" ry="1.998"/><ellipse cx="472.52" cy="211.09" rx="1.85" ry="1.998"/><ellipse cx="472.52" cy="208.18" rx="1.85" ry="1.998"/><ellipse cx="475.19" cy="248.96" rx="1.85" ry="1.998"/><ellipse cx="475.19" cy="246.05" rx="1.85" ry="1.998"/><ellipse cx="475.19" cy="243.14" rx="1.85" ry="1.998"/><ellipse cx="475.19" cy="240.22" rx="1.85" ry="1.998"/><ellipse cx="475.19" cy="237.31" rx="1.85" ry="1.998"/><ellipse cx="475.19" cy="234.4" rx="1.85" ry="1.998"/><ellipse cx="475.19" cy="231.48" rx="1.85" ry="1.998"/><ellipse cx="475.19" cy="228.57" rx="1.85" ry="1.998"/><ellipse cx="475.19" cy="225.66" rx="1.85" ry="1.998"/><ellipse cx="475.19" cy="222.74" rx="1.85" ry="1.998"/><ellipse cx="475.19" cy="219.83" rx="1.85" ry="1.998"/><ellipse cx="475.19" cy="216.92" rx="1.85" ry="1.998"/><ellipse cx="475.19" cy="214" rx="1.85" ry="1.998"/><ellipse cx="475.19" cy="211.09" rx="1.85" ry="1.998"/><ellipse cx="475.19" cy="208.18" rx="1.85" ry="1.998"/><ellipse cx="477.86" cy="248.96" rx="1.85" ry="1.998"/><ellipse cx="477.86" cy="246.05" rx="1.85" ry="1.998"/><ellipse cx="477.86" cy="243.14" rx="1.85" ry="1.998"/><ellipse cx="477.86" cy="240.22" rx="1.85" ry="1.998"/><ellipse cx="477.86" cy="237.31" rx="1.85" ry="1.998"/><ellipse cx="477.86" cy="234.4" rx="1.85" ry="1.998"/><ellipse cx="477.86" cy="231.48" rx="1.85" ry="1.998"/><ellipse cx="477.86" cy="228.57" rx="1.85" ry="1.998"/><ellipse cx="477.86" cy="225.66" rx="1.85" ry="1.998"/><ellipse cx="477.86" cy="222.74" rx="1.85" ry="1.998"/><ellipse cx="477.86" cy="219.83" rx="1.85" ry="1.998"/><ellipse cx="477.86" cy="216.92" rx="1.85" ry="1.998"/><ellipse cx="477.86" cy="214" rx="1.85" ry="1.998"/><ellipse cx="477.86" cy="211.09" rx="1.85" ry="1.998"/><ellipse cx="477.86" cy="208.18" rx="1.85" ry="1.998"/><ellipse cx="480.53" cy="248.96" rx="1.85" ry="1.998"/><ellipse cx="480.53" cy="246.05" rx="1.85" ry="1.998"/><ellipse cx="480.53" cy="243.14" rx="1.85" ry="1.998"/><ellipse cx="480.53" cy="240.22" rx="1.85" ry="1.998"/><ellipse cx="480.53" cy="237.31" rx="1.85" ry="1.998"/><ellipse cx="480.53" cy="234.4" rx="1.85" ry="1.998"/><ellipse cx="480.53" cy="231.48" rx="1.85" ry="1.998"/><ellipse cx="480.53" cy="228.57" rx="1.85" ry="1.998"/><ellipse cx="480.53" cy="225.66" rx="1.85" ry="1.998"/><ellipse cx="480.53" cy="222.74" rx="1.85" ry="1.998"/><ellipse cx="480.53" cy="219.83" rx="1.85" ry="1.998"/><ellipse cx="480.53" cy="216.92" rx="1.85" ry="1.998"/><ellipse cx="480.53" cy="214" rx="1.85" ry="1.998"/><ellipse cx="480.53" cy="211.09" rx="1.85" ry="1.998"/><ellipse cx="480.53" cy="208.18" rx="1.85" ry="1.998"/><ellipse cx="483.2" cy="248.96" rx="1.85" ry="1.998"/><ellipse cx="483.2" cy="246.05" rx="1.85" ry="1.998"/><ellipse cx="483.2" cy="243.14" rx="1.85" ry="1.998"/><ellipse cx="483.2" cy="240.22" rx="1.85" ry="1.998"/><ellipse cx="483.2" cy="237.31" rx="1.85" ry="1.998"/><ellipse cx="483.2" cy="234.4" rx="1.85" ry="1.998"/><ellipse cx="483.2" cy="231.48" rx="1.85" ry="1.998"/><ellipse cx="483.2" cy="228.57" rx="1.85" ry="1.998"/><ellipse cx="483.2" cy="225.66" rx="1.85" ry="1.998"/><ellipse cx="483.2" cy="222.74" rx="1.85" ry="1.998"/><ellipse cx="483.2" cy="219.83" rx="1.85" ry="1.998"/><ellipse cx="483.2" cy="216.92" rx="1.85" ry="1.998"/><ellipse cx="483.2" cy="214" rx="1.85" ry="1.998"/><ellipse cx="483.2" cy="211.09" rx="1.85" ry="1.998"/><ellipse cx="483.2" cy="208.18" rx="1.85" ry="1.998"/><ellipse cx="485.87" cy="248.96" rx="1.85" ry="1.998"/><ellipse cx="485.87" cy="246.05" rx="1.85" ry="1.998"/><ellipse cx="485.87" cy="243.14" rx="1.85" ry="1.998"/><ellipse cx="485.87" cy="240.22" rx="1.85" ry="1.998"/><ellipse cx="485.87" cy="237.31" rx="1.85" ry="1.998"/><ellipse cx="485.87" cy="234.4" rx="1.85" ry="1.998"/><ellipse cx="485.87" cy="231.48" rx="1.85" ry="1.998"/><ellipse cx="485.87" cy="228.57" rx="1.85" ry="1.998"/><ellipse cx="485.87" cy="225.66" rx="1.85" ry="1.998"/><ellipse cx="485.87" cy="222.74" rx="1.85" ry="1.998"/><ellipse cx="485.87" cy="219.83" rx="1.85" ry="1.998"/><ellipse cx="485.87" cy="216.92" rx="1.85" ry="1.998"/><ellipse cx="485.87" cy="214" rx="1.85" ry="1.998"/><ellipse cx="485.87" cy="211.09" rx="1.85" ry="1.998"/><ellipse cx="485.87" cy="208.18" rx="1.85" ry="1.998"/><ellipse cx="488.55" cy="248.96" rx="1.85" ry="1.998"/><ellipse cx="488.55" cy="246.05" rx="1.85" ry="1.998"/><ellipse cx="488.55" cy="243.14" rx="1.85" ry="1.998"/><ellipse cx="488.55" cy="240.22" rx="1.85" ry="1.998"/><ellipse cx="488.55" cy="237.31" rx="1.85" ry="1.998"/><ellipse cx="488.55" cy="234.4" rx="1.85" ry="1.998"/><ellipse cx="488.55" cy="231.48" rx="1.85" ry="1.998"/><ellipse cx="488.55" cy="228.57" rx="1.85" ry="1.998"/><ellipse cx="488.55" cy="225.66" rx="1.85" ry="1.998"/><ellipse cx="488.55" cy="222.74" rx="1.85" ry="1.998"/><ellipse cx="488.55" cy="219.83" rx="1.85" ry="1.998"/><ellipse cx="488.55" cy="216.92" rx="1.85" ry="1.998"/><ellipse cx="488.55" cy="214" rx="1.85" ry="1.998"/><ellipse cx="488.55" cy="211.09" rx="1.85" ry="1.998"/><ellipse cx="488.55" cy="208.18" rx="1.85" ry="1.998"/><ellipse cx="491.22" cy="248.96" rx="1.85" ry="1.998"/><ellipse cx="491.22" cy="246.05" rx="1.85" ry="1.998"/><ellipse cx="491.22" cy="243.14" rx="1.85" ry="1.998"/><ellipse cx="491.22" cy="240.22" rx="1.85" ry="1.998"/><ellipse cx="491.22" cy="237.31" rx="1.85" ry="1.998"/><ellipse cx="491.22" cy="234.4" rx="1.85" ry="1.998"/><ellipse cx="491.22" cy="231.48" rx="1.85" ry="1.998"/><ellipse cx="491.22" cy="228.57" rx="1.85" ry="1.998"/><ellipse cx="491.22" cy="225.66" rx="1.85" ry="1.998"/><ellipse cx="491.22" cy="222.74" rx="1.85" ry="1.998"/><ellipse cx="491.22" cy="219.83" rx="1.85" ry="1.998"/><ellipse cx="491.22" cy="216.92" rx="1.85" ry="1.998"/><ellipse cx="491.22" cy="214" rx="1.85" ry="1.998"/><ellipse cx="491.22" cy="211.09" rx="1.85" ry="1.998"/><ellipse cx="491.22" cy="208.18" rx="1.85" ry="1.998"/><ellipse cx="493.89" cy="248.96" rx="1.85" ry="1.998"/><ellipse cx="493.89" cy="246.05" rx="1.85" ry="1.998"/><ellipse cx="493.89" cy="243.14" rx="1.85" ry="1.998"/><ellipse cx="493.89" cy="240.22" rx="1.85" ry="1.998"/><ellipse cx="493.89" cy="237.31" rx="1.85" ry="1.998"/><ellipse cx="493.89" cy="234.4" rx="1.85" ry="1.998"/><ellipse cx="493.89" cy="231.48" rx="1.85" ry="1.998"/><ellipse cx="493.89" cy="228.57" rx="1.85" ry="1.998"/><ellipse cx="493.89" cy="225.66" rx="1.85" ry="1.998"/><ellipse cx="493.89" cy="222.74" rx="1.85" ry="1.998"/><ellipse cx="493.89" cy="219.83" rx="1.85" ry="1.998"/><ellipse cx="493.89" cy="216.92" rx="1.85" ry="1.998"/><ellipse cx="493.89" cy="214" rx="1.85" ry="1.998"/><ellipse cx="493.89" cy="211.09" rx="1.85" ry="1.998"/><ellipse cx="493.89" cy="208.18" rx="1.85" ry="1.998"/></g>
<g fill="#CC3A46"><ellipse cx="456.49" cy="248.96" rx="1.4" ry="1.512"/><ellipse cx="456.49" cy="246.05" rx="1.4" ry="1.512"/><ellipse cx="456.49" cy="243.14" rx="1.4" ry="1.512"/><ellipse cx="456.49" cy="240.22" rx="1.4" ry="1.512"/><ellipse cx="456.49" cy="237.31" rx="1.4" ry="1.512"/><ellipse cx="456.49" cy="234.4" rx="1.4" ry="1.512"/><ellipse cx="456.49" cy="231.48" rx="1.4" ry="1.512"/><ellipse cx="456.49" cy="228.57" rx="1.4" ry="1.512"/><ellipse cx="456.49" cy="225.66" rx="1.4" ry="1.512"/><ellipse cx="456.49" cy="222.74" rx="1.4" ry="1.512"/><ellipse cx="456.49" cy="219.83" rx="1.4" ry="1.512"/><ellipse cx="456.49" cy="216.92" rx="1.4" ry="1.512"/><ellipse cx="456.49" cy="214" rx="1.4" ry="1.512"/><ellipse cx="456.49" cy="211.09" rx="1.4" ry="1.512"/><ellipse cx="456.49" cy="208.18" rx="1.4" ry="1.512"/><ellipse cx="459.16" cy="248.96" rx="1.4" ry="1.512"/><ellipse cx="459.16" cy="246.05" rx="1.4" ry="1.512"/><ellipse cx="459.16" cy="243.14" rx="1.4" ry="1.512"/><ellipse cx="459.16" cy="240.22" rx="1.4" ry="1.512"/><ellipse cx="459.16" cy="237.31" rx="1.4" ry="1.512"/><ellipse cx="459.16" cy="234.4" rx="1.4" ry="1.512"/><ellipse cx="459.16" cy="231.48" rx="1.4" ry="1.512"/><ellipse cx="459.16" cy="228.57" rx="1.4" ry="1.512"/><ellipse cx="459.16" cy="225.66" rx="1.4" ry="1.512"/><ellipse cx="459.16" cy="222.74" rx="1.4" ry="1.512"/><ellipse cx="459.16" cy="219.83" rx="1.4" ry="1.512"/><ellipse cx="459.16" cy="216.92" rx="1.4" ry="1.512"/><ellipse cx="459.16" cy="214" rx="1.4" ry="1.512"/><ellipse cx="459.16" cy="211.09" rx="1.4" ry="1.512"/><ellipse cx="459.16" cy="208.18" rx="1.4" ry="1.512"/><ellipse cx="461.83" cy="248.96" rx="1.4" ry="1.512"/><ellipse cx="461.83" cy="246.05" rx="1.4" ry="1.512"/><ellipse cx="461.83" cy="243.14" rx="1.4" ry="1.512"/><ellipse cx="461.83" cy="240.22" rx="1.4" ry="1.512"/><ellipse cx="461.83" cy="237.31" rx="1.4" ry="1.512"/><ellipse cx="461.83" cy="234.4" rx="1.4" ry="1.512"/><ellipse cx="461.83" cy="231.48" rx="1.4" ry="1.512"/><ellipse cx="461.83" cy="228.57" rx="1.4" ry="1.512"/><ellipse cx="461.83" cy="225.66" rx="1.4" ry="1.512"/><ellipse cx="461.83" cy="222.74" rx="1.4" ry="1.512"/><ellipse cx="461.83" cy="219.83" rx="1.4" ry="1.512"/><ellipse cx="461.83" cy="216.92" rx="1.4" ry="1.512"/><ellipse cx="461.83" cy="214" rx="1.4" ry="1.512"/><ellipse cx="461.83" cy="211.09" rx="1.4" ry="1.512"/><ellipse cx="461.83" cy="208.18" rx="1.4" ry="1.512"/><ellipse cx="464.5" cy="248.96" rx="1.4" ry="1.512"/><ellipse cx="464.5" cy="246.05" rx="1.4" ry="1.512"/><ellipse cx="464.5" cy="243.14" rx="1.4" ry="1.512"/><ellipse cx="464.5" cy="240.22" rx="1.4" ry="1.512"/><ellipse cx="464.5" cy="237.31" rx="1.4" ry="1.512"/><ellipse cx="464.5" cy="234.4" rx="1.4" ry="1.512"/><ellipse cx="464.5" cy="231.48" rx="1.4" ry="1.512"/><ellipse cx="464.5" cy="228.57" rx="1.4" ry="1.512"/><ellipse cx="464.5" cy="225.66" rx="1.4" ry="1.512"/><ellipse cx="464.5" cy="222.74" rx="1.4" ry="1.512"/><ellipse cx="464.5" cy="219.83" rx="1.4" ry="1.512"/><ellipse cx="464.5" cy="216.92" rx="1.4" ry="1.512"/><ellipse cx="464.5" cy="214" rx="1.4" ry="1.512"/><ellipse cx="464.5" cy="211.09" rx="1.4" ry="1.512"/><ellipse cx="464.5" cy="208.18" rx="1.4" ry="1.512"/><ellipse cx="467.18" cy="248.96" rx="1.4" ry="1.512"/><ellipse cx="467.18" cy="246.05" rx="1.4" ry="1.512"/><ellipse cx="467.18" cy="243.14" rx="1.4" ry="1.512"/><ellipse cx="467.18" cy="240.22" rx="1.4" ry="1.512"/><ellipse cx="467.18" cy="237.31" rx="1.4" ry="1.512"/><ellipse cx="467.18" cy="234.4" rx="1.4" ry="1.512"/><ellipse cx="467.18" cy="231.48" rx="1.4" ry="1.512"/><ellipse cx="467.18" cy="228.57" rx="1.4" ry="1.512"/><ellipse cx="467.18" cy="225.66" rx="1.4" ry="1.512"/><ellipse cx="467.18" cy="222.74" rx="1.4" ry="1.512"/><ellipse cx="467.18" cy="219.83" rx="1.4" ry="1.512"/><ellipse cx="467.18" cy="216.92" rx="1.4" ry="1.512"/><ellipse cx="467.18" cy="214" rx="1.4" ry="1.512"/><ellipse cx="467.18" cy="211.09" rx="1.4" ry="1.512"/><ellipse cx="467.18" cy="208.18" rx="1.4" ry="1.512"/><ellipse cx="469.85" cy="248.96" rx="1.4" ry="1.512"/><ellipse cx="469.85" cy="246.05" rx="1.4" ry="1.512"/><ellipse cx="469.85" cy="243.14" rx="1.4" ry="1.512"/><ellipse cx="469.85" cy="240.22" rx="1.4" ry="1.512"/><ellipse cx="469.85" cy="237.31" rx="1.4" ry="1.512"/><ellipse cx="469.85" cy="234.4" rx="1.4" ry="1.512"/><ellipse cx="469.85" cy="231.48" rx="1.4" ry="1.512"/><ellipse cx="469.85" cy="228.57" rx="1.4" ry="1.512"/><ellipse cx="469.85" cy="225.66" rx="1.4" ry="1.512"/><ellipse cx="469.85" cy="222.74" rx="1.4" ry="1.512"/><ellipse cx="469.85" cy="219.83" rx="1.4" ry="1.512"/><ellipse cx="469.85" cy="216.92" rx="1.4" ry="1.512"/><ellipse cx="469.85" cy="214" rx="1.4" ry="1.512"/><ellipse cx="469.85" cy="211.09" rx="1.4" ry="1.512"/><ellipse cx="469.85" cy="208.18" rx="1.4" ry="1.512"/><ellipse cx="472.52" cy="248.96" rx="1.4" ry="1.512"/><ellipse cx="472.52" cy="246.05" rx="1.4" ry="1.512"/><ellipse cx="472.52" cy="243.14" rx="1.4" ry="1.512"/><ellipse cx="472.52" cy="240.22" rx="1.4" ry="1.512"/><ellipse cx="472.52" cy="237.31" rx="1.4" ry="1.512"/><ellipse cx="472.52" cy="234.4" rx="1.4" ry="1.512"/><ellipse cx="472.52" cy="231.48" rx="1.4" ry="1.512"/><ellipse cx="472.52" cy="228.57" rx="1.4" ry="1.512"/><ellipse cx="472.52" cy="225.66" rx="1.4" ry="1.512"/><ellipse cx="472.52" cy="222.74" rx="1.4" ry="1.512"/><ellipse cx="472.52" cy="219.83" rx="1.4" ry="1.512"/><ellipse cx="472.52" cy="216.92" rx="1.4" ry="1.512"/><ellipse cx="472.52" cy="214" rx="1.4" ry="1.512"/><ellipse cx="472.52" cy="211.09" rx="1.4" ry="1.512"/><ellipse cx="472.52" cy="208.18" rx="1.4" ry="1.512"/><ellipse cx="475.19" cy="248.96" rx="1.4" ry="1.512"/><ellipse cx="475.19" cy="246.05" rx="1.4" ry="1.512"/><ellipse cx="475.19" cy="243.14" rx="1.4" ry="1.512"/><ellipse cx="475.19" cy="240.22" rx="1.4" ry="1.512"/><ellipse cx="475.19" cy="237.31" rx="1.4" ry="1.512"/><ellipse cx="475.19" cy="234.4" rx="1.4" ry="1.512"/><ellipse cx="475.19" cy="231.48" rx="1.4" ry="1.512"/><ellipse cx="475.19" cy="228.57" rx="1.4" ry="1.512"/><ellipse cx="475.19" cy="225.66" rx="1.4" ry="1.512"/><ellipse cx="475.19" cy="222.74" rx="1.4" ry="1.512"/><ellipse cx="475.19" cy="219.83" rx="1.4" ry="1.512"/><ellipse cx="475.19" cy="216.92" rx="1.4" ry="1.512"/><ellipse cx="475.19" cy="214" rx="1.4" ry="1.512"/><ellipse cx="475.19" cy="211.09" rx="1.4" ry="1.512"/><ellipse cx="475.19" cy="208.18" rx="1.4" ry="1.512"/><ellipse cx="477.86" cy="248.96" rx="1.4" ry="1.512"/><ellipse cx="477.86" cy="246.05" rx="1.4" ry="1.512"/><ellipse cx="477.86" cy="243.14" rx="1.4" ry="1.512"/><ellipse cx="477.86" cy="240.22" rx="1.4" ry="1.512"/><ellipse cx="477.86" cy="237.31" rx="1.4" ry="1.512"/><ellipse cx="477.86" cy="234.4" rx="1.4" ry="1.512"/><ellipse cx="477.86" cy="231.48" rx="1.4" ry="1.512"/><ellipse cx="477.86" cy="228.57" rx="1.4" ry="1.512"/><ellipse cx="477.86" cy="225.66" rx="1.4" ry="1.512"/><ellipse cx="477.86" cy="222.74" rx="1.4" ry="1.512"/><ellipse cx="477.86" cy="219.83" rx="1.4" ry="1.512"/><ellipse cx="477.86" cy="216.92" rx="1.4" ry="1.512"/><ellipse cx="477.86" cy="214" rx="1.4" ry="1.512"/><ellipse cx="477.86" cy="211.09" rx="1.4" ry="1.512"/><ellipse cx="477.86" cy="208.18" rx="1.4" ry="1.512"/><ellipse cx="480.53" cy="248.96" rx="1.4" ry="1.512"/><ellipse cx="480.53" cy="246.05" rx="1.4" ry="1.512"/><ellipse cx="480.53" cy="243.14" rx="1.4" ry="1.512"/><ellipse cx="480.53" cy="240.22" rx="1.4" ry="1.512"/><ellipse cx="480.53" cy="237.31" rx="1.4" ry="1.512"/><ellipse cx="480.53" cy="234.4" rx="1.4" ry="1.512"/><ellipse cx="480.53" cy="231.48" rx="1.4" ry="1.512"/><ellipse cx="480.53" cy="228.57" rx="1.4" ry="1.512"/><ellipse cx="480.53" cy="225.66" rx="1.4" ry="1.512"/><ellipse cx="480.53" cy="222.74" rx="1.4" ry="1.512"/><ellipse cx="480.53" cy="219.83" rx="1.4" ry="1.512"/><ellipse cx="480.53" cy="216.92" rx="1.4" ry="1.512"/><ellipse cx="480.53" cy="214" rx="1.4" ry="1.512"/><ellipse cx="480.53" cy="211.09" rx="1.4" ry="1.512"/><ellipse cx="480.53" cy="208.18" rx="1.4" ry="1.512"/><ellipse cx="483.2" cy="248.96" rx="1.4" ry="1.512"/><ellipse cx="483.2" cy="246.05" rx="1.4" ry="1.512"/><ellipse cx="483.2" cy="243.14" rx="1.4" ry="1.512"/><ellipse cx="483.2" cy="240.22" rx="1.4" ry="1.512"/><ellipse cx="483.2" cy="237.31" rx="1.4" ry="1.512"/><ellipse cx="483.2" cy="234.4" rx="1.4" ry="1.512"/><ellipse cx="483.2" cy="231.48" rx="1.4" ry="1.512"/><ellipse cx="483.2" cy="228.57" rx="1.4" ry="1.512"/><ellipse cx="483.2" cy="225.66" rx="1.4" ry="1.512"/><ellipse cx="483.2" cy="222.74" rx="1.4" ry="1.512"/><ellipse cx="483.2" cy="219.83" rx="1.4" ry="1.512"/><ellipse cx="483.2" cy="216.92" rx="1.4" ry="1.512"/><ellipse cx="483.2" cy="214" rx="1.4" ry="1.512"/><ellipse cx="483.2" cy="211.09" rx="1.4" ry="1.512"/><ellipse cx="483.2" cy="208.18" rx="1.4" ry="1.512"/><ellipse cx="485.87" cy="248.96" rx="1.4" ry="1.512"/><ellipse cx="485.87" cy="246.05" rx="1.4" ry="1.512"/><ellipse cx="485.87" cy="243.14" rx="1.4" ry="1.512"/><ellipse cx="485.87" cy="240.22" rx="1.4" ry="1.512"/><ellipse cx="485.87" cy="237.31" rx="1.4" ry="1.512"/><ellipse cx="485.87" cy="234.4" rx="1.4" ry="1.512"/><ellipse cx="485.87" cy="231.48" rx="1.4" ry="1.512"/><ellipse cx="485.87" cy="228.57" rx="1.4" ry="1.512"/><ellipse cx="485.87" cy="225.66" rx="1.4" ry="1.512"/><ellipse cx="485.87" cy="222.74" rx="1.4" ry="1.512"/><ellipse cx="485.87" cy="219.83" rx="1.4" ry="1.512"/><ellipse cx="485.87" cy="216.92" rx="1.4" ry="1.512"/><ellipse cx="485.87" cy="214" rx="1.4" ry="1.512"/><ellipse cx="485.87" cy="211.09" rx="1.4" ry="1.512"/><ellipse cx="485.87" cy="208.18" rx="1.4" ry="1.512"/><ellipse cx="488.55" cy="248.96" rx="1.4" ry="1.512"/><ellipse cx="488.55" cy="246.05" rx="1.4" ry="1.512"/><ellipse cx="488.55" cy="243.14" rx="1.4" ry="1.512"/><ellipse cx="488.55" cy="240.22" rx="1.4" ry="1.512"/><ellipse cx="488.55" cy="237.31" rx="1.4" ry="1.512"/><ellipse cx="488.55" cy="234.4" rx="1.4" ry="1.512"/><ellipse cx="488.55" cy="231.48" rx="1.4" ry="1.512"/><ellipse cx="488.55" cy="228.57" rx="1.4" ry="1.512"/><ellipse cx="488.55" cy="225.66" rx="1.4" ry="1.512"/><ellipse cx="488.55" cy="222.74" rx="1.4" ry="1.512"/><ellipse cx="488.55" cy="219.83" rx="1.4" ry="1.512"/><ellipse cx="488.55" cy="216.92" rx="1.4" ry="1.512"/><ellipse cx="488.55" cy="214" rx="1.4" ry="1.512"/><ellipse cx="488.55" cy="211.09" rx="1.4" ry="1.512"/><ellipse cx="488.55" cy="208.18" rx="1.4" ry="1.512"/><ellipse cx="491.22" cy="248.96" rx="1.4" ry="1.512"/><ellipse cx="491.22" cy="246.05" rx="1.4" ry="1.512"/><ellipse cx="491.22" cy="243.14" rx="1.4" ry="1.512"/><ellipse cx="491.22" cy="240.22" rx="1.4" ry="1.512"/><ellipse cx="491.22" cy="237.31" rx="1.4" ry="1.512"/><ellipse cx="491.22" cy="234.4" rx="1.4" ry="1.512"/><ellipse cx="491.22" cy="231.48" rx="1.4" ry="1.512"/><ellipse cx="491.22" cy="228.57" rx="1.4" ry="1.512"/><ellipse cx="491.22" cy="225.66" rx="1.4" ry="1.512"/><ellipse cx="491.22" cy="222.74" rx="1.4" ry="1.512"/><ellipse cx="491.22" cy="219.83" rx="1.4" ry="1.512"/><ellipse cx="491.22" cy="216.92" rx="1.4" ry="1.512"/><ellipse cx="491.22" cy="214" rx="1.4" ry="1.512"/><ellipse cx="491.22" cy="211.09" rx="1.4" ry="1.512"/><ellipse cx="491.22" cy="208.18" rx="1.4" ry="1.512"/><ellipse cx="493.89" cy="248.96" rx="1.4" ry="1.512"/><ellipse cx="493.89" cy="246.05" rx="1.4" ry="1.512"/><ellipse cx="493.89" cy="243.14" rx="1.4" ry="1.512"/><ellipse cx="493.89" cy="240.22" rx="1.4" ry="1.512"/><ellipse cx="493.89" cy="237.31" rx="1.4" ry="1.512"/><ellipse cx="493.89" cy="234.4" rx="1.4" ry="1.512"/><ellipse cx="493.89" cy="231.48" rx="1.4" ry="1.512"/><ellipse cx="493.89" cy="228.57" rx="1.4" ry="1.512"/><ellipse cx="493.89" cy="225.66" rx="1.4" ry="1.512"/><ellipse cx="493.89" cy="222.74" rx="1.4" ry="1.512"/><ellipse cx="493.89" cy="219.83" rx="1.4" ry="1.512"/><ellipse cx="493.89" cy="216.92" rx="1.4" ry="1.512"/><ellipse cx="493.89" cy="214" rx="1.4" ry="1.512"/><ellipse cx="493.89" cy="211.09" rx="1.4" ry="1.512"/><ellipse cx="493.89" cy="208.18" rx="1.4" ry="1.512"/></g>
<text transform="translate(432.45 291.90) scale(1.0 1)" x="-7.58" y="0" font-size="7.79" textLength="5.51" lengthAdjust="spacingAndGlyphs">−</text><text transform="translate(432.45 291.90) scale(1.0 1)" x="-1.63 3.08" y="0" font-size="7.79">16</text>
<text transform="translate(475.19 291.90) scale(1.0 1)" x="-2.17" y="0" font-size="7.79">0</text>
<text transform="translate(517.93 291.90) scale(1.0 1)" x="-4.71 -0.01" y="0" font-size="7.79">16</text>
<text transform="translate(421.75 184.40) scale(1.0 1)" x="-8.74 -4.04" y="0" font-size="7.79">16</text>
<text transform="translate(421.75 231.41) scale(1.0 1)" x="-4.01" y="0" font-size="7.79">0</text>
<text transform="translate(421.75 277.88) scale(1.0 1)" x="-14.69" y="0" font-size="7.79" textLength="5.51" lengthAdjust="spacingAndGlyphs">−</text><text transform="translate(421.75 277.88) scale(1.0 1)" x="-8.74 -4.04" y="0" font-size="7.79">16</text>
<text transform="translate(475.19 302.05) scale(1.05 1)" x="-35.17 -30.83 -28.15 -23.86 -19.20 -14.24 -11.50 -6.59 -4.49 -0.05 5.21 7.93 12.62 15.01 18.23 25.65 33.44" y="0" font-size="8.29">x-coordinate [mm]</text>
<text transform="translate(402.55 228.21) rotate(-90) scale(1.05 1)" x="-35.09 -30.90 -28.22 -23.93 -19.27 -14.31 -11.57 -6.66 -4.56 -0.12 5.13 7.86 12.55 14.94 18.16 25.58 33.37" y="0" font-size="8.29">y-coordinate [mm]</text>
<text x="430.47" y="326.40" class="cap" font-size="11.2">(</text><text x="434.36" y="326.40" class="cap" font-size="10.3" textLength="6.18" lengthAdjust="spacingAndGlyphs">g</text><text x="440.70" y="326.40" class="cap" font-size="11.2">)</text><text x="449.29" y="326.40" class="cap" font-size="10.3" font-style="italic" textLength="6.18" lengthAdjust="spacingAndGlyphs">n</text><text x="470.91" y="326.40" class="cap" font-size="10.3" textLength="5.67" lengthAdjust="spacingAndGlyphs">2</text><text x="476.66" y="326.40" class="cap" font-size="10.3" textLength="5.67" lengthAdjust="spacingAndGlyphs">2</text><text x="482.41" y="326.40" class="cap" font-size="10.3" textLength="5.67" lengthAdjust="spacingAndGlyphs">5</text><rect x="459.67" y="322.45" width="7.47" height="0.75" fill="#222"/><rect x="459.67" y="324.85" width="7.47" height="0.75" fill="#222"/>
</g>
</svg>
</body></html>
